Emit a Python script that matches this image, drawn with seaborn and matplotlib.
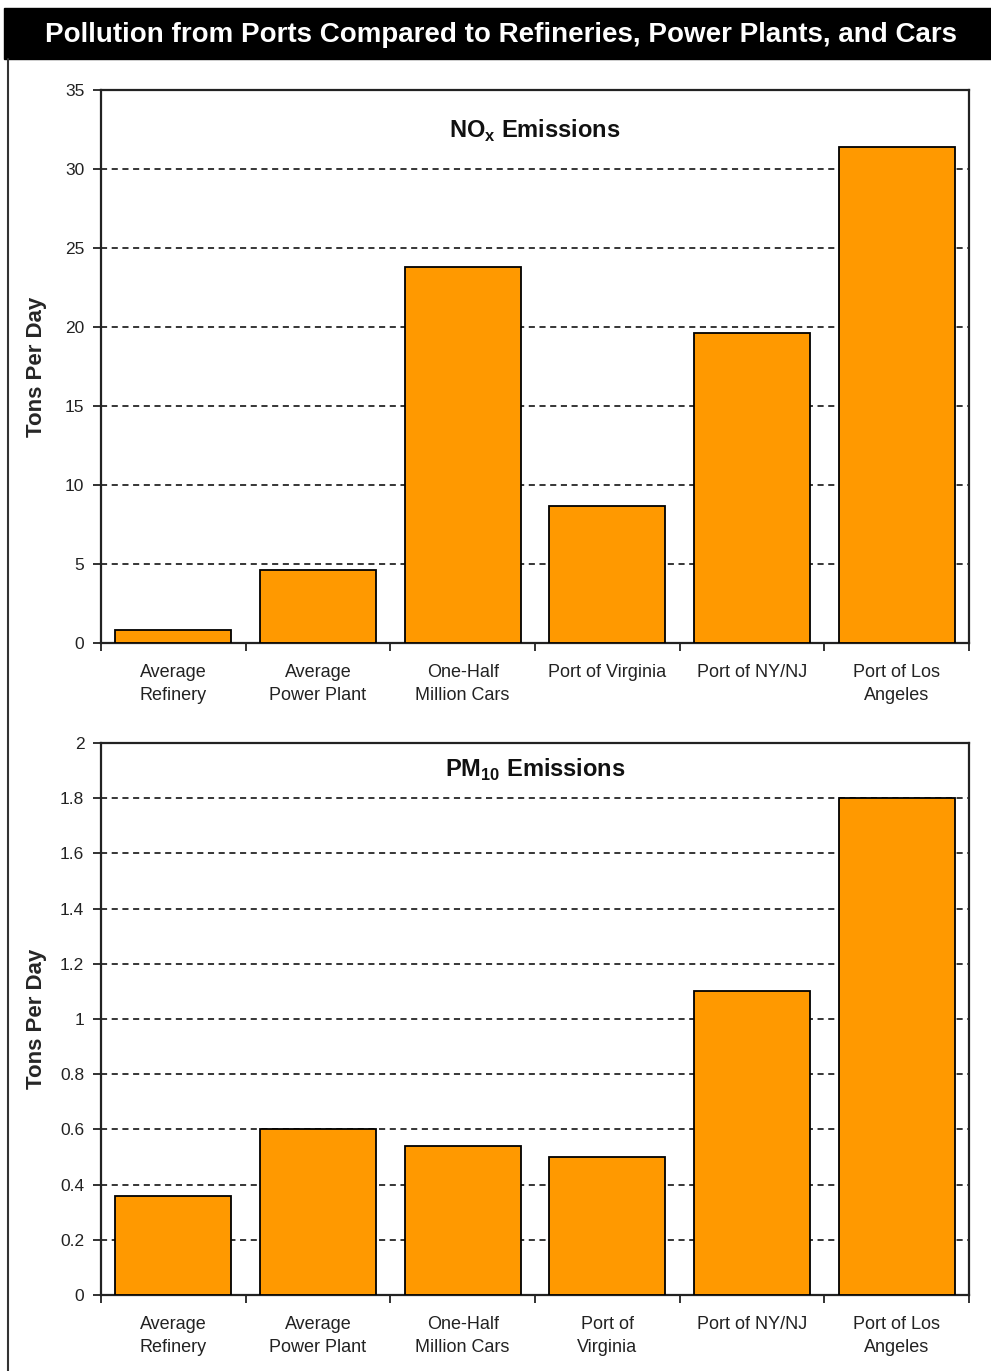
import numpy as np
import pandas as pd
import matplotlib
matplotlib.use("Agg")
import matplotlib.pyplot as plt
import seaborn as sns
from matplotlib.patches import Rectangle
from matplotlib.lines import Line2D

# data
nox_labels = ["Average\nRefinery", "Average\nPower Plant", "One-Half\nMillion Cars",
              "Port of Virginia", "Port of NY/NJ", "Port of Los\nAngeles"]
nox_values = [0.8, 4.6, 23.8, 8.7, 19.6, 31.4]

pm_labels = ["Average\nRefinery", "Average\nPower Plant", "One-Half\nMillion Cars",
             "Port of\nVirginia", "Port of NY/NJ", "Port of Los\nAngeles"]
pm_values = [0.36, 0.6, 0.54, 0.5, 1.1, 1.8]

nox_ticks = [0, 5, 10, 15, 20, 25, 30, 35]
pm_ticks = [0, 0.2, 0.4, 0.6, 0.8, 1, 1.2, 1.4, 1.6, 1.8, 2]
pm_ticklabels = ["0", "0.2", "0.4", "0.6", "0.8", "1", "1.2", "1.4", "1.6", "1.8", "2"]

sns.set_style("white")
plt.rcParams['font.family'] = ['Liberation Sans', 'DejaVu Sans']

BAR = '#FF9900'
SPINE = '#222222'


def emissions_panel(ax, labels, values, ticks, ticklabels, title, title_y):
    df = pd.DataFrame({'source': labels, 'tons': values})
    sns.barplot(data=df, x='source', y='tons', color=BAR, width=0.8,
                edgecolor='black', linewidth=1.3, saturation=1, ax=ax, zorder=3)
    ax.set_xlim(-0.5, len(labels) - 0.5)
    ax.set_ylim(ticks[0], ticks[-1])
    ax.set_yticks(ticks)
    ax.set_yticklabels(ticklabels, fontsize=12.5, color='#222222')
    # dashed grid, not on the top spine
    for t in ticks[1:-1]:
        ax.axhline(t, color='black', linestyle=(0, (4, 3)), linewidth=1.1, zorder=1)
    # category labels centred, tick marks on the boundaries
    ax.set_xticks(range(len(labels)))
    ax.set_xticklabels(labels, fontsize=13, color='#222222', linespacing=1.45)
    ax.tick_params(axis='x', which='major', length=0, pad=15)
    ax.set_xticks(np.arange(-0.5, len(labels)), minor=True)
    ax.tick_params(axis='x', which='minor', bottom=True, length=6, width=1.3,
                   color=SPINE, direction='out')
    ax.tick_params(axis='y', left=True, length=6, width=1.3, color=SPINE,
                   direction='out', pad=6)
    for sp in ax.spines.values():
        sp.set_visible(True)
        sp.set_color(SPINE)
        sp.set_linewidth(1.6)
    ax.set_xlabel('')
    ax.set_ylabel('Tons Per Day', fontsize=16, fontweight='bold')
    ax.yaxis.set_label_coords(-0.062, 0.5)
    ax.text(0.5, title_y, title, transform=ax.transAxes, ha='center', va='center',
            fontsize=17, fontweight='bold', color='#111111')


fig = plt.figure(figsize=(9.91, 13.71), dpi=100)
fig.patch.set_facecolor('white')

# black title bar and left frame line
fig.patches.append(Rectangle((4 / 991, 1 - 59 / 1371), 1, 51 / 1371,
                             transform=fig.transFigure, color='black', zorder=0))
fig.lines.append(Line2D([8 / 991, 8 / 991], [0, 1 - 59 / 1371],
                        transform=fig.transFigure, color='#333333', linewidth=1.5))
fig.text(0.506, 1 - 35 / 1371,
         'Pollution from Ports Compared to Refineries, Power Plants, and Cars',
         ha='center', va='center', color='white', fontsize=20, fontweight='bold')

ax1 = fig.add_axes([101 / 991, 1 - 643 / 1371, 868 / 991, 553 / 1371])
emissions_panel(ax1, nox_labels, nox_values, nox_ticks,
                [str(t) for t in nox_ticks], r'NO$_\mathregular{x}$ Emissions', 0.926)

ax2 = fig.add_axes([101 / 991, 1 - 1295 / 1371, 868 / 991, 552 / 1371])
emissions_panel(ax2, pm_labels, pm_values, pm_ticks, pm_ticklabels,
                r'PM$_\mathregular{10}$ Emissions', 0.951)

fig.savefig('out.png', dpi=100)
